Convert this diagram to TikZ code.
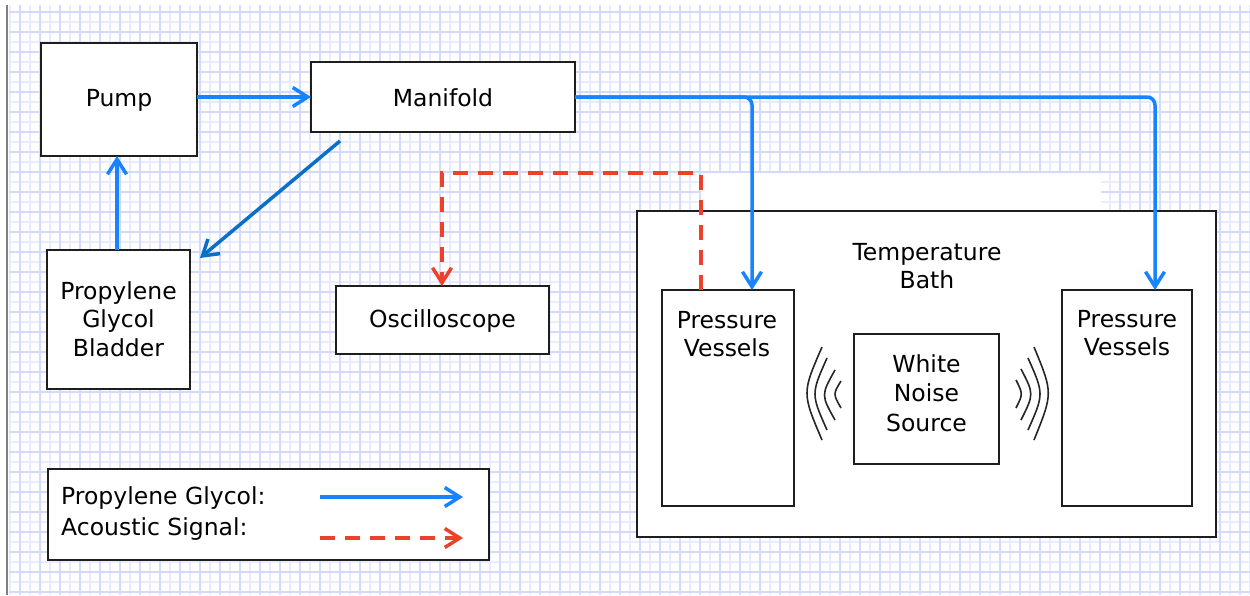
\documentclass[tikz,border=0pt]{standalone}
\usepackage{fontspec}
\setmainfont{DejaVu Sans}
\usetikzlibrary{arrows.meta,calc}
\definecolor{gminor}{RGB}{233,236,255}
\definecolor{gmajor}{RGB}{212,217,255}
\definecolor{flowblue}{RGB}{25,130,255}
\definecolor{diagblue}{RGB}{8,112,200}
\definecolor{sigred}{RGB}{236,66,44}
\definecolor{boxline}{RGB}{30,30,30}
\tikzset{
  box/.style={draw=boxline, line width=2, fill=white, inner sep=0, outer sep=0},
  lbl/.style={font=\fontsize{23.5}{28.5}\selectfont, align=center, text=black, inner sep=0},
  flow/.style={draw=flowblue, line width=3.5, -{Straight Barb[length=15, width=19, line width=3.5]}},
  signal/.style={draw=sigred, line width=3.5, dash pattern=on 15 off 10, -{Straight Barb[length=15, width=19, line width=3.5]}},
  wave/.style={draw=black!85, line width=1.6},
  minorline/.style={draw=gminor, line width=1.4},
  majorline/.style={draw=gmajor, line width=1.8}
}
\begin{document}
\begin{tikzpicture}[x=1pt, y=-1pt]
\useasboundingbox (0,0) rectangle (1250,595);
\fill[white] (0,0) rectangle (1250,595);
% grid
\foreach \x in {10,30,...,1250} \draw[minorline] (\x,5) -- (\x,595);
\foreach \y in {22,42,...,595} \draw[minorline] (9,\y) -- (1250,\y);
\foreach \x in {20,40,...,1250} \draw[majorline] (\x,5) -- (\x,595);
\foreach \y in {12,32,...,595} \draw[majorline] (9,\y) -- (1250,\y);
\draw[gray, line width=1.5] (7,5) -- (7,595);
\fill[white] (701,173) rectangle (1101,211);

% boxes
\node[box, minimum width=156, minimum height=113] (pump) at (119,99.5) {};
\node[box, minimum width=264, minimum height=70] (manifold) at (443,97) {};
\node[box, minimum width=143, minimum height=139] (bladder) at (118.5,319.5) {};
\node[box, minimum width=213, minimum height=68] (osc) at (442.5,320) {};
\node[box, minimum width=579, minimum height=326] (bath) at (926.5,374) {};
\node[box, minimum width=132, minimum height=216] (pvl) at (728,398) {};
\node[box, minimum width=130, minimum height=216] (pvr) at (1127,398) {};
\node[box, minimum width=145, minimum height=130] (wns) at (926.5,399) {};
\node[box, minimum width=441, minimum height=91] (legend) at (268.5,514.5) {};

% labels
\node[lbl] (pumpt) at (119,100) {Pump};
\node[lbl] (mant) at (443,98) {Manifold};
\node[lbl] (bladt) at (118.5,319) {Propylene\\Glycol\\Bladder};
\node[lbl] (osct) at (442.5,321) {Oscilloscope};
\node[lbl] (batht) at (927,266) {Temperature\\Bath};
\node[lbl] (pvlt) at (727,334) {Pressure\\Vessels};
\node[lbl] (pvrt) at (1127,333) {Pressure\\Vessels};
\node[lbl, font=\fontsize{23.5}{29.5}\selectfont] (wnst) at (926.5,393) {White\\Noise\\Source};
\node[lbl, anchor=west] (lg1) at (61,498) {Propylene Glycol:};
\node[lbl, anchor=west] (lg2) at (61,529) {Acoustic Signal:};

% legend arrows
\coordinate (la1) at (320,497);
\coordinate (lb1) at (463,497);
\coordinate (la2) at (320,538);
\coordinate (lb2) at (463,538);
\draw[flow] (la1) -- (lb1);
\draw[signal] (la2) -- (lb2);

% flows
\draw[flow] (pump.east |- manifold.west) -- (manifold.west);
\draw[flow] (bladder.north -| 117,0) -- (pump.south -| 117,0);
\draw[flow, draw=diagblue] ($(manifold.south west)+(29,9)$) -- ($(bladder.north east)+(10,8)$);
\draw[flow, rounded corners=8] (manifold.east) -| ($(pvl.north)+(24,0)$);
\draw[flow, rounded corners=8] (manifold.east) -| ($(pvr.north)+(28,0)$);

% acoustic signal
\draw[signal] ($(pvl.north)+(-27,0)$) |- (442,173) -- (osc.north -| 442,0);

% sound waves left
\draw[wave] (822,347) .. controls (802,393) .. (822,440);
\draw[wave] (827,358) .. controls (811,394) .. (827,430);
\draw[wave] (835,370) .. controls (821,395) .. (835,420);
\draw[wave] (841,381) .. controls (833,394) .. (841,408);
% sound waves right
\draw[wave] (1016,380) .. controls (1023,394) .. (1016,408);
\draw[wave] (1021,369) .. controls (1034,394) .. (1021,420);
\draw[wave] (1028,358) .. controls (1044,394) .. (1028,430);
\draw[wave] (1034,347) .. controls (1053,393) .. (1034,440);
\end{tikzpicture}
\end{document}
